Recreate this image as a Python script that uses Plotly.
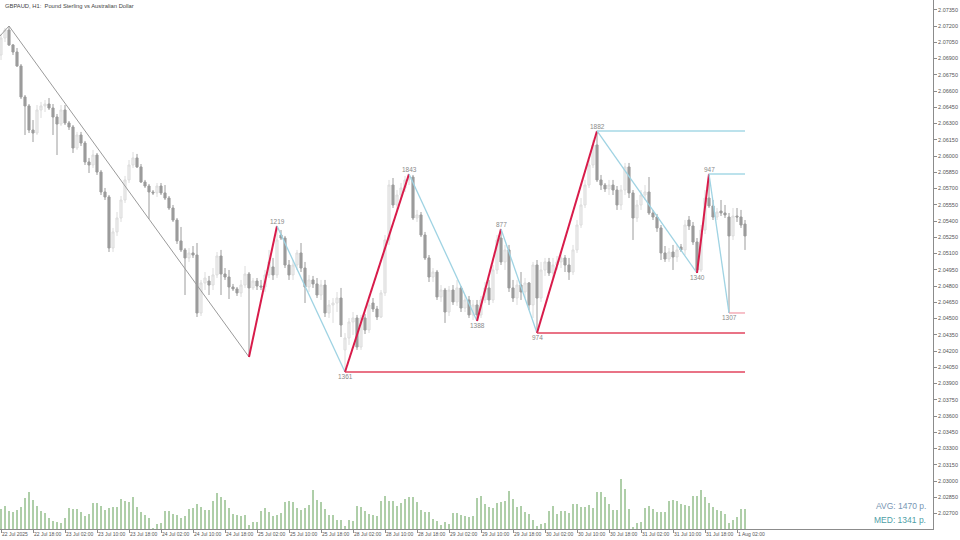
import plotly.graph_objects as go

# ---------------- data ----------------
bar_index = list(range(187))

open_ = [2.06932,2.07089,2.07163,2.07025,2.06960,2.06831,2.06545,2.06462,2.06240,2.06212,
2.06425,2.06462,2.06480,2.06443,2.06360,2.06295,2.06425,2.06305,2.06268,2.06074,
2.06194,2.06120,2.05945,2.05917,2.06009,2.05852,2.05668,2.05622,2.05151,2.05299,
2.05428,2.05594,2.05779,2.05917,2.05982,2.05899,2.05760,2.05723,2.05668,2.05659,
2.05723,2.05659,2.05612,2.05520,2.05409,2.05216,2.05133,2.05059,2.05105,2.05086,
2.04551,2.04828,2.04846,2.04809,2.04902,2.05077,2.04911,2.04883,2.04791,2.04773,
2.04736,2.04809,2.04911,2.04782,2.04846,2.04800,2.04791,2.04902,2.04976,2.04902,
2.05271,2.05243,2.04994,2.04902,2.04994,2.05105,2.04966,2.04791,2.04856,2.04819,
2.04717,2.04809,2.04551,2.04625,2.04643,2.04689,2.04210,2.04320,2.04468,2.04505,
2.04237,2.04505,2.04394,2.04643,2.04588,2.04514,2.04736,2.05225,2.05732,2.05548,
2.05640,2.05705,2.05779,2.05806,2.05428,2.05456,2.05271,2.05059,2.04883,2.04929,
2.04699,2.04763,2.04560,2.04763,2.04653,2.04782,2.04597,2.04671,2.04533,2.04625,
2.04533,2.04671,2.04782,2.04671,2.04948,2.05243,2.05022,2.05133,2.04782,2.04689,
2.04809,2.04745,2.04828,2.04625,2.04994,2.04689,2.04948,2.05022,2.04920,2.04994,
2.05022,2.05059,2.04994,2.04929,2.05133,2.05363,2.05548,2.05732,2.05917,2.06102,
2.05779,2.05732,2.05696,2.05732,2.05686,2.05548,2.05686,2.05899,2.05659,2.05428,
2.05548,2.05640,2.05668,2.05474,2.05437,2.05336,2.05105,2.05049,2.05114,2.05068,
2.05160,2.05133,2.05409,2.05354,2.05206,2.04948,2.05317,2.05612,2.05539,2.05437,
2.05492,2.05474,2.05437,2.05262,2.05446,2.05437,2.05372]

high = [2.07126,2.07182,2.07200,2.07034,2.06997,2.06849,2.06563,2.06480,2.06332,2.06471,
2.06499,2.06517,2.06535,2.06480,2.06388,2.06471,2.06471,2.06323,2.06286,2.06222,
2.06222,2.06139,2.05982,2.06056,2.06028,2.05871,2.05705,2.05640,2.05336,2.05483,
2.05631,2.05816,2.05963,2.06037,2.06019,2.05926,2.05779,2.05742,2.05686,2.05751,
2.05751,2.05732,2.05631,2.05548,2.05428,2.05345,2.05151,2.05151,2.05169,2.05197,
2.04856,2.04929,2.04893,2.04966,2.05114,2.05133,2.04966,2.04948,2.04819,2.04791,
2.04856,2.04985,2.04929,2.04874,2.04874,2.04856,2.04948,2.05133,2.05059,2.05354,
2.05317,2.05262,2.05040,2.05040,2.05133,2.05197,2.05022,2.04902,2.04893,2.04874,
2.04856,2.04856,2.04671,2.04689,2.04745,2.04782,2.04366,2.04505,2.04560,2.04533,
2.04533,2.04542,2.04671,2.04689,2.04616,2.04763,2.05271,2.05779,2.05797,2.05686,
2.05751,2.05816,2.05834,2.05825,2.05502,2.05483,2.05299,2.05086,2.04966,2.04948,
2.04809,2.04782,2.04800,2.04809,2.04856,2.04800,2.04717,2.04708,2.04671,2.04671,
2.04708,2.04837,2.04856,2.04994,2.05271,2.05326,2.05179,2.05179,2.04856,2.04856,
2.04929,2.04874,2.04837,2.05022,2.05040,2.05022,2.05059,2.05059,2.05059,2.05077,
2.05114,2.05086,2.05059,2.05179,2.05409,2.05612,2.05779,2.05963,2.06148,2.06231,
2.05825,2.05751,2.05779,2.05779,2.05723,2.05732,2.05936,2.05936,2.05686,2.05594,
2.05686,2.05732,2.05806,2.05502,2.05465,2.05363,2.05169,2.05151,2.05179,2.05179,
2.05188,2.05409,2.05446,2.05391,2.05243,2.05363,2.05686,2.05834,2.05594,2.05520,
2.05594,2.05548,2.05474,2.05520,2.05520,2.05502,2.05409]

low = [2.06886,2.07052,2.07015,2.06932,2.06822,2.06526,2.06194,2.06212,2.06129,2.06194,
2.06351,2.06406,2.06425,2.06194,2.06009,2.06277,2.06286,2.06240,2.06028,2.06056,
2.06092,2.05917,2.05843,2.05889,2.05825,2.05640,2.05594,2.05114,2.05114,2.05262,
2.05391,2.05566,2.05751,2.05889,2.05889,2.05751,2.05705,2.05419,2.05640,2.05622,
2.05640,2.05594,2.05502,2.05391,2.05188,2.05114,2.04717,2.05022,2.05059,2.04514,
2.04523,2.04763,2.04717,2.04763,2.04874,2.04717,2.04856,2.04680,2.04754,2.04708,
2.04699,2.04782,2.04145,2.04763,2.04763,2.04763,2.04745,2.04874,2.04856,2.04874,
2.05225,2.04966,2.04856,2.04856,2.04948,2.04929,2.04643,2.04745,2.04782,2.04689,
2.04671,2.04514,2.04505,2.04459,2.04560,2.04329,2.04006,2.04256,2.04348,2.04210,
2.04210,2.04357,2.04366,2.04560,2.04486,2.04505,2.04708,2.05179,2.05520,2.05502,
2.05594,2.05668,2.05732,2.05409,2.05391,2.05252,2.05040,2.04837,2.04837,2.04671,
2.04653,2.04459,2.04523,2.04625,2.04616,2.04560,2.04560,2.04505,2.04486,2.04477,
2.04505,2.04643,2.04625,2.04643,2.04911,2.04994,2.04948,2.04745,2.04653,2.04625,
2.04671,2.04689,2.04579,2.04505,2.04366,2.04653,2.04893,2.04893,2.04874,2.04948,
2.04966,2.04929,2.04856,2.04902,2.05105,2.05336,2.05520,2.05705,2.05889,2.05760,
2.05686,2.05668,2.05640,2.05640,2.05502,2.05502,2.05640,2.05612,2.05225,2.05391,
2.05502,2.05594,2.05456,2.05409,2.05299,2.05040,2.05022,2.05022,2.04948,2.05022,
2.05114,2.05086,2.05317,2.05179,2.04920,2.04929,2.05280,2.05520,2.05409,2.05409,
2.05446,2.05428,2.04551,2.05225,2.05391,2.05336,2.05133]

close = [2.07089,2.07163,2.07025,2.06960,2.06831,2.06545,2.06462,2.06240,2.06212,2.06425,
2.06462,2.06480,2.06443,2.06360,2.06295,2.06425,2.06305,2.06268,2.06074,2.06194,
2.06120,2.05945,2.05917,2.06009,2.05852,2.05668,2.05622,2.05151,2.05299,2.05428,
2.05594,2.05779,2.05917,2.05982,2.05899,2.05760,2.05723,2.05668,2.05659,2.05723,
2.05659,2.05612,2.05520,2.05409,2.05216,2.05133,2.05059,2.05105,2.05086,2.04551,
2.04828,2.04874,2.04809,2.04902,2.05077,2.04911,2.04883,2.04791,2.04773,2.04736,
2.04809,2.04911,2.04782,2.04846,2.04800,2.04791,2.04902,2.05022,2.04902,2.05225,
2.05243,2.04994,2.04902,2.04994,2.05105,2.04966,2.04791,2.04856,2.04819,2.04717,
2.04809,2.04551,2.04625,2.04643,2.04689,2.04440,2.04320,2.04468,2.04505,2.04237,
2.04505,2.04394,2.04625,2.04588,2.04514,2.04736,2.05225,2.05732,2.05548,2.05640,
2.05705,2.05779,2.05806,2.05428,2.05456,2.05271,2.05059,2.04883,2.04929,2.04699,
2.04763,2.04560,2.04763,2.04653,2.04782,2.04597,2.04671,2.04533,2.04625,2.04533,
2.04671,2.04782,2.04671,2.04948,2.05225,2.05022,2.05133,2.04782,2.04689,2.04809,
2.04745,2.04828,2.04625,2.04994,2.04689,2.04948,2.05022,2.04920,2.04994,2.05022,
2.05059,2.04994,2.04929,2.05133,2.05363,2.05548,2.05732,2.05917,2.06102,2.05779,
2.05732,2.05696,2.05732,2.05686,2.05548,2.05686,2.05899,2.05659,2.05428,2.05548,
2.05640,2.05668,2.05474,2.05437,2.05336,2.05105,2.05049,2.05114,2.05068,2.05133,
2.05133,2.05363,2.05354,2.05206,2.04948,2.05317,2.05612,2.05539,2.05437,2.05483,
2.05474,2.05456,2.05262,2.05446,2.05437,2.05363,2.05262]

volume = [2000,2300,1800,1700,1900,2200,3100,3700,2900,2300,1800,1600,1100,800,700,600,1100,2100,2000,2000,
1700,1300,1500,2600,2600,2300,1900,2100,2200,2200,3000,2800,2700,3200,2200,1700,1400,1100,100,500,
600,1800,1800,1500,1400,1100,1300,2000,2100,2500,2200,1900,1900,2800,3600,3200,2900,2100,1500,1400,
1300,1400,400,700,700,1800,2100,1700,1300,1400,1600,2700,2800,2700,2100,1900,2100,2400,3900,2900,
2700,2000,1400,1400,900,900,300,900,800,2300,2200,1800,1500,1400,1300,2800,3300,2800,2800,2300,
2600,3000,3200,3200,2700,1900,1700,1700,1000,800,400,700,500,1600,1600,1400,1300,1200,1300,3100,
3300,2500,2200,2100,2600,2700,2800,3800,3000,2200,2300,1700,1500,900,300,500,600,1800,2300,1500,
1800,1800,1600,2500,2500,2200,2200,2400,2100,3700,3700,3200,2500,1900,1900,5000,4000,2000,200,600,
700,2100,2300,2000,1700,1700,1700,2800,2900,2800,2500,2400,2300,3300,3300,3900,3200,2600,2200,1900,
1800,1500,600,900,1200,2000,2000]

# zigzag pivots (bar index, price) and the leg sizes printed at them (points)
zz_bar = [-4, 2, 62, 69, 86, 102, 119, 125, 134, 149, 174, 177, 182]
zz_price = [2.06954, 2.07200, 2.04145, 2.05354, 2.04006, 2.05834, 2.04477,
            2.05326, 2.04366, 2.06231, 2.04920, 2.05834, 2.04551]
zz_label = ["", "", "", "1219", "1361", "1843", "1388", "877", "974", "1882", "1340", "947", "1307"]

# unbroken levels: (start bar, price, kind)
level_bar = [86, 134, 182, 149, 177]
level_price = [2.04006, 2.04366, 2.04551, 2.06231, 2.05834]
level_kind = ["low", "low", "low2", "high", "high"]

x_tick_bars = list(range(0, 187, 8))
x_tick_text = ["22 Jul 2025", "22 Jul 18:00", "23 Jul 02:00", "23 Jul 10:00", "23 Jul 18:00",
               "24 Jul 02:00", "24 Jul 10:00", "24 Jul 18:00", "25 Jul 02:00", "25 Jul 10:00",
               "25 Jul 18:00", "28 Jul 02:00", "28 Jul 10:00", "28 Jul 18:00", "29 Jul 02:00",
               "29 Jul 10:00", "29 Jul 18:00", "30 Jul 02:00", "30 Jul 10:00", "30 Jul 18:00",
               "31 Jul 02:00", "31 Jul 10:00", "31 Jul 18:00", "1 Aug 02:00"]
y_tick_vals = [round(2.07350 - 0.0015 * k, 5) for k in range(32)]

title_text = "GBPAUD, H1:  Pound Sterling vs Australian Dollar"
avg_text = "AVG: 1470 p."
med_text = "MED: 1341 p."

# ---------------- figure ----------------
FONT = "Liberation Sans, Arial, sans-serif"
fig = go.Figure()

# volumes (thin green bars at the bottom)
vx, vy0 = [], []
for i, v in zip(bar_index, volume):
    vx += [i, i, None]
    vy0 += [0, v, None]
fig.add_trace(go.Scatter(x=vx, y=vy0, mode="lines", yaxis="y2",
                         line=dict(color="#5e9e52", width=1), hoverinfo="skip"))

fig.add_trace(go.Candlestick(
    x=bar_index, open=open_, high=high, low=low, close=close,
    increasing=dict(line=dict(color="#dcdcdc", width=1), fillcolor="#efefef"),
    decreasing=dict(line=dict(color="#9c9c9c", width=1), fillcolor="#9c9c9c"),
    whiskerwidth=0, hoverinfo="skip"))

# zigzag legs
for k in range(len(zz_bar) - 1):
    b0, b1 = zz_bar[k], zz_bar[k + 1]
    p0, p1 = zz_price[k], zz_price[k + 1]
    if b1 <= 62:
        col, w = "#9a9a9a", 1
    elif p1 > p0:
        col, w = "#d81b4a", 2
    else:
        col, w = "#9fd3e3", 1.3
    fig.add_trace(go.Scatter(x=[b0, b1], y=[p0, p1], mode="lines",
                             line=dict(color=col, width=w), hoverinfo="skip"))

# levels
last_bar = bar_index[-1]
for b, p, kind in zip(level_bar, level_price, level_kind):
    col = {"low": "#e2445e", "low2": "#f2a0ac", "high": "#a6d8e6"}[kind]
    fig.add_trace(go.Scatter(x=[b, last_bar], y=[p, p], mode="lines",
                             line=dict(color=col, width=1.3), hoverinfo="skip"))

# leg labels
for k in range(len(zz_bar)):
    if not zz_label[k]:
        continue
    is_high = zz_price[k] > zz_price[k - 1]
    fig.add_annotation(x=zz_bar[k], y=zz_price[k], text=zz_label[k], showarrow=False,
                       yanchor="bottom" if is_high else "top",
                       yshift=-1 if is_high else 1,
                       font=dict(family=FONT, size=6.5, color="#8a8a8a"))

fig.add_annotation(xref="paper", yref="paper", x=0, y=1, xshift=3, yshift=-1,
                   xanchor="left", yanchor="top", text=title_text, showarrow=False,
                   font=dict(family=FONT, size=5.8, color="#444444"))
fig.add_annotation(xref="paper", yref="paper", x=1, y=0, xshift=-5, yshift=16,
                   xanchor="right", yanchor="bottom", text=avg_text, showarrow=False,
                   font=dict(family=FONT, size=8.5, color="#7896b4"))
fig.add_annotation(xref="paper", yref="paper", x=1, y=0, xshift=-5, yshift=2,
                   xanchor="right", yanchor="bottom", text=med_text, showarrow=False,
                   font=dict(family=FONT, size=8.5, color="#4e9ea6"))

fig.update_layout(
    width=960, height=540, showlegend=False, hovermode=False,
    paper_bgcolor="white", plot_bgcolor="white",
    margin=dict(l=0, r=27, t=0, b=11, pad=0, autoexpand=False),
    xaxis=dict(range=[-0.25, 233], showgrid=False, zeroline=False,
               showline=True, mirror=True, linecolor="#8c8c8c", linewidth=1,
               tickmode="array", tickvals=x_tick_bars, ticktext=x_tick_text,
               ticks="outside", ticklen=3, tickcolor="#8c8c8c", tickangle=0,
               ticklabelposition="outside right",
               tickfont=dict(family=FONT, size=5, color="#555555"),
               rangeslider=dict(visible=False)),
    yaxis=dict(range=[2.02557, 2.07440], side="right", showgrid=False, zeroline=False,
               showline=True, mirror=True, linecolor="#8c8c8c", linewidth=1,
               tickmode="array", tickvals=y_tick_vals, tickformat=".5f",
               ticks="outside", ticklen=3, tickcolor="#8c8c8c",
               tickfont=dict(family=FONT, size=5.5, color="#555555")),
    yaxis2=dict(range=[0, 52900], overlaying="y", visible=False),
    boxgap=0.25,
)

fig.write_html("out.html", config={"displayModeBar": False},
               post_script="document.body.style.margin='0';")
